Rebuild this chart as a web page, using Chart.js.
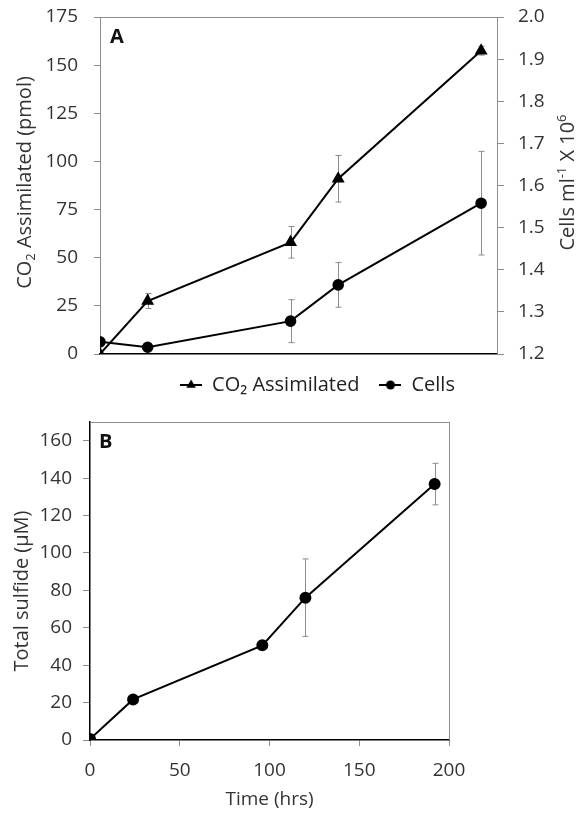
<!DOCTYPE html>
<html><head><meta charset="utf-8">
<script src="https://cdn.jsdelivr.net/npm/chart.js@4.4.0/dist/chart.umd.min.js"></script>
<style>
html,body{margin:0;padding:0;background:#fff;}
#wrap{position:relative;width:577px;height:815px;overflow:hidden;background:#fff;}
#cA{position:absolute;left:0;top:0;}
#cB{position:absolute;left:0;top:405px;}
</style></head><body>
<div id="wrap"><canvas id="cA" width="577" height="405"></canvas><canvas id="cB" width="577" height="410"></canvas></div>
<script>
// ---- data ----
const timeHrs = [0, 24, 96, 120, 192];
const co2Assimilated = [0, 27.5, 58, 91, 157.5];
const co2Error = [0, 3.9, 8.2, 12.1, 2.3];
const cellsPerMl = [1.229, 1.216, 1.278, 1.364, 1.558];
const cellsError = [0, 0, 0.051, 0.053, 0.123];
const totalSulfide = [0.5, 21.7, 50.6, 76.1, 136.8];
const sulfideError = [0, 0, 0, 20.7, 11.1];
const leftTicksA = [0, 25, 50, 75, 100, 125, 150, 175];
const rightTicksA = [1.2, 1.3, 1.4, 1.5, 1.6, 1.7, 1.8, 1.9, 2.0];
const yTicksB = [0, 20, 40, 60, 80, 100, 120, 140, 160];
const xTicksB = [0, 50, 100, 150, 200];
const seriesLabels = ['CO\u2082 Assimilated', 'Cells', 'Total sulfide'];

Chart.defaults.font.family = "'Open Sans', sans-serif";
Chart.defaults.font.size = 19;
Chart.defaults.color = '#333';

const toPts = (xs, ys) => xs.map((x, i) => ({x: x, y: ys[i]}));

// legend icons (line through marker)
function makeIcon(kind) {
  const c = document.createElement('canvas');
  c.width = 22; c.height = 12;
  const g = c.getContext('2d');
  g.strokeStyle = '#000'; g.lineWidth = 2;
  g.beginPath(); g.moveTo(0, 6); g.lineTo(22, 6); g.stroke();
  g.fillStyle = '#000';
  g.beginPath();
  if (kind === 'triangle') {
    const r = 5.5;
    g.moveTo(11, 6 - r);
    g.lineTo(11 + r * 0.866, 6 + r / 2);
    g.lineTo(11 - r * 0.866, 6 + r / 2);
    g.closePath();
  } else {
    g.arc(11, 6, 4.5, 0, Math.PI * 2);
  }
  g.fill();
  return c;
}
const legendIcons = [makeIcon('triangle'), makeIcon('circle')];

const errorBarPlugin = {
  id: 'errorBars',
  beforeDatasetsDraw(chart, args, opts) {
    if (!opts.sets) return;
    const ctx = chart.ctx;
    ctx.save();
    ctx.strokeStyle = opts.color || '#888';
    ctx.lineWidth = 1;
    opts.sets.forEach(s => {
      const ds = chart.data.datasets[s.datasetIndex];
      const meta = chart.getDatasetMeta(s.datasetIndex);
      const xs = chart.scales[meta.xAxisID], ys = chart.scales[meta.yAxisID];
      ds.data.forEach((p, i) => {
        const e = s.errors[i];
        if (!e) return;
        const x = Math.round(xs.getPixelForValue(p.x)) + 0.5;
        const y1 = ys.getPixelForValue(p.y - e), y2 = ys.getPixelForValue(p.y + e);
        ctx.beginPath();
        ctx.moveTo(x, y1); ctx.lineTo(x, y2);
        ctx.moveTo(x - 3, y1); ctx.lineTo(x + 3, y1);
        ctx.moveTo(x - 3, y2); ctx.lineTo(x + 3, y2);
        ctx.stroke();
      });
    });
    ctx.restore();
  }
};

const decorPlugin = {
  id: 'decor',
  afterLayout(chart, args, opts) {
    if (opts.legendShift && chart.legend) {
      chart.legend.left += opts.legendShift;
      chart.legend.right += opts.legendShift;
    }
  },
  beforeDatasetsDraw(chart, args, opts) {
    const ctx = chart.ctx, a = chart.chartArea;
    ctx.save();
    ctx.strokeStyle = '#8c8c8c'; ctx.lineWidth = 1;
    ctx.beginPath();
    if (opts.frameTop) { ctx.moveTo(a.left, Math.round(a.top) + 0.5); ctx.lineTo(a.right, Math.round(a.top) + 0.5); }
    if (opts.frameRight) { ctx.moveTo(Math.round(a.right) + 0.5, a.top); ctx.lineTo(Math.round(a.right) + 0.5, a.bottom); }
    ctx.stroke();
    ctx.restore();
  },
  afterDraw(chart, args, opts) {
    const ctx = chart.ctx, a = chart.chartArea;
    ctx.save();
    if (opts.panel) {
      ctx.font = "bold 20px 'Open Sans', sans-serif";
      ctx.fillStyle = '#111';
      ctx.textAlign = 'left'; ctx.textBaseline = 'middle';
      ctx.fillText(opts.panel.text, a.left + opts.panel.dx, a.top + opts.panel.dy);
    }
    (opts.titles || []).forEach(t => {
      const big = "20px 'Open Sans', sans-serif", small = "13px 'Open Sans', sans-serif";
      let total = 0;
      t.segments.forEach(s => { ctx.font = s.sub || s.sup ? small : big; s.w = ctx.measureText(s.text).width; total += s.w; });
      ctx.save();
      ctx.translate(t.x, (a.top + a.bottom) / 2 + t.dy);
      ctx.rotate(-Math.PI / 2);
      ctx.fillStyle = '#333';
      ctx.textAlign = 'left'; ctx.textBaseline = 'alphabetic';
      let cx = -total / 2;
      t.segments.forEach(s => {
        ctx.font = s.sub || s.sup ? small : big;
        const by = s.sub ? 11 : (s.sup ? -1 : 7);
        ctx.fillText(s.text, cx, by);
        cx += s.w;
      });
      ctx.restore();
    });
    ctx.restore();
  }
};

const lineStyle = {borderColor: '#000', backgroundColor: '#000', borderWidth: 2, tension: 0, fill: false};
function fixY(w) { return function (s) { s.width = w; s.paddingTop = 0; s.paddingBottom = 0; }; }
function fixX(h) { return function (s) { s.height = h; s.paddingLeft = 0; s.paddingRight = 0; }; }

// ---- Chart A ----
new Chart(document.getElementById('cA'), {
  type: 'line',
  data: {
    datasets: [
      Object.assign({label: seriesLabels[0], data: toPts(timeHrs, co2Assimilated), yAxisID: 'y',
        pointStyle: 'triangle', pointRadius: 5.5, pointHoverRadius: 5.5}, lineStyle),
      Object.assign({label: seriesLabels[1], data: toPts(timeHrs, cellsPerMl), yAxisID: 'y1',
        pointStyle: 'circle', pointRadius: 4.8, pointHoverRadius: 4.8}, lineStyle)
    ]
  },
  options: {
    responsive: false, animation: false, devicePixelRatio: 1,
    layout: {padding: {top: 17, left: 0, right: 0, bottom: 0}},
    scales: {
      x: {type: 'linear', min: 0, max: 200, ticks: {display: false}, grid: {display: false},
        border: {color: '#000', width: 1.5}, afterFit: fixX(1)},
      y: {position: 'left', min: 0, max: 175,
        afterBuildTicks(s) { s.ticks = leftTicksA.map(v => ({value: v})); },
        ticks: {padding: 16, callback: v => String(v)},
        grid: {drawOnChartArea: false, tickLength: 6, tickColor: '#8c8c8c'},
        border: {color: '#8c8c8c', width: 1}, afterFit: fixY(100)},
      y1: {position: 'right', min: 1.2, max: 2.0,
        afterBuildTicks(s) { s.ticks = rightTicksA.map(v => ({value: v})); },
        ticks: {padding: 14, callback: v => Number(v).toFixed(1)},
        grid: {drawOnChartArea: false, tickLength: 7, tickColor: '#8c8c8c'},
        border: {color: '#8c8c8c', width: 1}, afterFit: fixY(80)}
    },
    plugins: {
      tooltip: {enabled: false},
      legend: {position: 'bottom',
        labels: {usePointStyle: true, pointStyleWidth: 22, padding: 20, color: '#222', font: {size: 20},
          generateLabels(chart) {
            const items = Chart.defaults.plugins.legend.labels.generateLabels(chart);
            items.forEach((it, i) => { it.pointStyle = legendIcons[i]; });
            return items;
          }}},
      errorBars: {color: '#8c8c8c', sets: [{datasetIndex: 0, errors: co2Error}, {datasetIndex: 1, errors: cellsError}]},
      decor: {legendShift: 29, frameTop: true, frameRight: false,
        panel: {text: 'A', dx: 10, dy: 20},
        titles: [
          {x: 24, dy: -3, segments: [{text: 'CO'}, {text: '2', sub: true}, {text: ' Assimilated (pmol)'}]},
          {x: 567, dy: -3, segments: [{text: 'Cells ml'}, {text: '-1', sup: true}, {text: ' X 10'}, {text: '6', sup: true}]}
        ]}
    }
  },
  plugins: [errorBarPlugin, decorPlugin]
});

// ---- Chart B ----
new Chart(document.getElementById('cB'), {
  type: 'line',
  data: {
    datasets: [
      Object.assign({label: seriesLabels[2], data: toPts(timeHrs, totalSulfide),
        pointStyle: 'circle', pointRadius: 5, pointHoverRadius: 5}, lineStyle)
    ]
  },
  options: {
    responsive: false, animation: false, devicePixelRatio: 1,
    layout: {padding: {top: 17, left: 0, right: 128, bottom: 4}},
    scales: {
      x: {type: 'linear', min: 0, max: 200,
        afterBuildTicks(s) { s.ticks = xTicksB.map(v => ({value: v})); },
        ticks: {padding: 13, callback: v => String(v)},
        grid: {drawOnChartArea: false, tickLength: 6, tickColor: '#8c8c8c'},
        border: {color: '#000', width: 1.5},
        title: {display: true, text: 'Time (hrs)', color: '#333', font: {size: 19}, padding: {top: 0, bottom: 0}},
        afterFit: fixX(71)},
      y: {position: 'left', min: 0, max: 170,
        afterBuildTicks(s) { s.ticks = yTicksB.map(v => ({value: v})); },
        ticks: {padding: 11, callback: v => String(v)},
        grid: {drawOnChartArea: false, tickLength: 7, tickColor: '#8c8c8c'},
        border: {color: '#000', width: 1.5}, afterFit: fixY(90)}
    },
    plugins: {
      tooltip: {enabled: false},
      legend: {display: false},
      errorBars: {color: '#8c8c8c', sets: [{datasetIndex: 0, errors: sulfideError}]},
      decor: {frameTop: true, frameRight: true,
        panel: {text: 'B', dx: 9, dy: 20},
        titles: [
          {x: 21, dy: 10, segments: [{text: 'Total sulfide (\u00B5M)'}]}
        ]}
    }
  },
  plugins: [errorBarPlugin, decorPlugin]
});
</script>
</body></html>
